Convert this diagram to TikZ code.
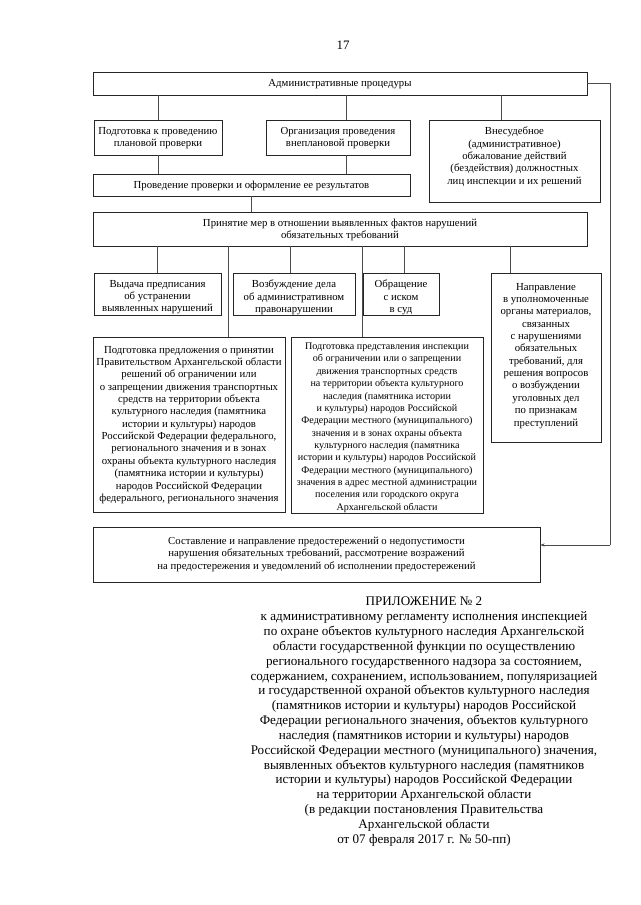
\documentclass[tikz,border=0pt]{standalone}
\usepackage{fontspec}
\setmainfont{Liberation Serif}
\usetikzlibrary{arrows.meta,shadows,calc}
\newdimen\pxu \pxu=0.9302pt
\tikzset{
  boxst/.style={draw=black!85, line width=0.6pt, fill=white, inner sep=0pt,
    font=\fontsize{10}{11.5}\selectfont,
    drop shadow={shadow xshift=0.9pt,shadow yshift=-0.9pt,fill=black!50,opacity=0.6}},
  conn/.style={draw=black!70, line width=0.6pt},
  plain/.style={inner sep=0pt}
}
\newcommand\mkbox[8][]{%
  \node[boxst,#1] (#2) at ({(#3+#5)/2},{(#4+#6)/2})
  {\begin{minipage}[c][\dimexpr\pxu*(#6-#4)\relax][t]{\dimexpr\pxu*(#5-#3)\relax}\centering\vspace*{\dimexpr\pxu*#7\relax}#8\end{minipage}};}
\begin{document}
\begin{tikzpicture}[x=0.9302pt,y=-0.9302pt]
\useasboundingbox[fill=white] (0,0) rectangle (640,905);
\node[plain,font=\fontsize{12}{14}\selectfont] (pg) at (343,45) {17};

\mkbox{box1}{93}{72}{587}{95}{7}{Административные процедуры}
\mkbox{pod}{94}{120}{222}{155}{7}{Подготовка к проведению\\плановой проверки}
\mkbox{org}{266}{120}{410}{155}{7}{Организация проведения\\внеплановой проверки}
\mkbox{vne}{429}{120}{600}{202}{7}{Внесудебное\\(административное)\\обжалование действий\\(бездействия) должностных\\лиц инспекции и их решений}
\mkbox{prov}{93}{174}{410}{196}{7}{Проведение проверки и оформление ее результатов}
\mkbox{prin}{93}{212}{587}{246}{7}{Принятие мер в отношении выявленных фактов нарушений\\обязательных требований}
\mkbox{vyd}{94}{273}{221}{315}{7}{Выдача предписания\\об устранении\\выявленных нарушений}
\mkbox{vozb}{233}{273}{355}{315}{7}{Возбуждение дела\\об административном\\правонарушении}
\mkbox{obr}{363}{273}{439}{315}{7}{Обращение\\с иском\\в суд}
\mkbox{napr}{491}{273}{601}{442}{10}{Направление\\в уполномоченные\\органы материалов,\\связанных\\с нарушениями\\обязательных\\требований, для\\решения вопросов\\о возбуждении\\уголовных дел\\по признакам\\преступлений}
\mkbox{predl}{93}{337}{285}{512}{9}{Подготовка предложения о принятии\\Правительством Архангельской области\\решений об ограничении или\\о запрещении движения транспортных\\средств на территории объекта\\культурного наследия (памятника\\истории и культуры) народов\\Российской Федерации федерального,\\регионального значения и в зонах\\охраны объекта культурного наследия\\(памятника истории и культуры)\\народов Российской Федерации\\федерального, регионального значения}
\mkbox[font=\fontsize{9.4}{11.5}\selectfont]{predst}{291}{337}{483}{513}{6}{Подготовка представления инспекции\\об ограничении или о запрещении\\движения транспортных средств\\на территории объекта культурного\\наследия (памятника истории\\и культуры) народов Российской\\Федерации местного (муниципального)\\значения и в зонах охраны объекта\\культурного наследия (памятника\\истории и культуры) народов Российской\\Федерации местного (муниципального)\\значения в адрес местной администрации\\поселения или городского округа\\Архангельской области}
\mkbox{sost}{93}{527}{540}{582}{10}{Составление и направление предостережений о недопустимости\\нарушения обязательных требований, рассмотрение возражений\\на предостережения и уведомлений об исполнении предостережений}

% connector anchor points
\coordinate (cOrgN) at ($(org.north)+(8,0)$);
\coordinate (cOrgS) at ($(org.south)+(8,0)$);
\coordinate (cVne) at ($(vne.north)+(-13,0)$);
\coordinate (cPredl) at ($(predl.north)+(39,0)$);
\coordinate (cVozb) at ($(vozb.north)+(-4,0)$);
\coordinate (cPredst) at ($(predst.north)+(-25,0)$);
\coordinate (cObr) at ($(obr.north)+(3,0)$);
\coordinate (cNapr) at ($(napr.north)+(-36,0)$);

% connectors
\draw[conn] (box1.south -| pod.north) -- (pod.north);
\draw[conn] (box1.south -| cOrgN) -- (cOrgN);
\draw[conn] (box1.south -| cVne) -- (cVne);
\draw[conn] (pod.south) -- (prov.north -| pod.south);
\draw[conn] (cOrgS) -- (prov.north -| cOrgS);
\draw[conn] (prov.south) -- (prin.north -| prov.south);
\draw[conn] (prin.south -| vyd.north) -- (vyd.north);
\draw[conn] (prin.south -| cPredl) -- (cPredl);
\draw[conn] (prin.south -| cVozb) -- (cVozb);
\draw[conn] (prin.south -| cPredst) -- (cPredst);
\draw[conn] (prin.south -| cObr) -- (cObr);
\draw[conn] (prin.south -| cNapr) -- (cNapr);
\coordinate (r1) at (610,83.5);
\coordinate (r2) at (610,545);
\draw[conn] (box1.east) -- (r1) -- (r2);
\draw[conn,-{Stealth[length=4pt,width=3pt]}] (r2) -- (r2 -| sost.east);

\node[plain,anchor=north,align=center,font=\fontsize{12.2}{13.8}\selectfont] (app) at (424,597)
{ПРИЛОЖЕНИЕ № 2\\
к административному регламенту исполнения инспекцией\\
по охране объектов культурного наследия Архангельской\\
области государственной функции по осуществлению\\
регионального государственного надзора за состоянием,\\
содержанием, сохранением, использованием, популяризацией\\
и государственной охраной объектов культурного наследия\\
(памятников истории и культуры) народов Российской\\
Федерации регионального значения, объектов культурного\\
наследия (памятников истории и культуры) народов\\
Российской Федерации местного (муниципального) значения,\\
выявленных объектов культурного наследия (памятников\\
истории и культуры) народов Российской Федерации\\
на территории Архангельской области\\
(в редакции постановления Правительства\\
Архангельской области\\
от 07 февраля 2017 г. № 50-пп)};
\end{tikzpicture}
\end{document}
